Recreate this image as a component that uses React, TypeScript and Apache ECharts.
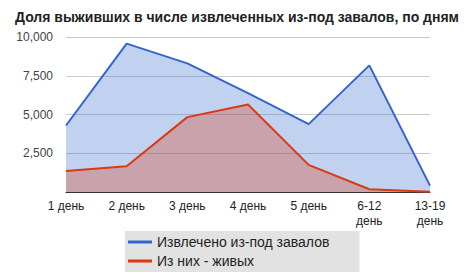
import React, { useEffect, useRef } from "react";
import * as echarts from "echarts";

const categories = ["1 день", "2 день", "3 день", "4 день", "5 день", "6-12\nдень", "13-19\nдень"];
const extracted = [4290, 9570, 8300, 6380, 4380, 8170, 410];
const alive = [1360, 1660, 4830, 5650, 1750, 180, 20];
const yTicks = { min: 0, max: 10000, interval: 2500 };
const seriesNames = ["Извлечено из-под завалов", "Из них - живых"];

export default function App() {
  const ref = useRef<HTMLDivElement>(null);
  useEffect(() => {
    const chart = echarts.init(ref.current!, null, { renderer: "svg" });
    chart.setOption({
      animation: false,
      textStyle: { fontFamily: "Liberation Sans, Arial, sans-serif" },
      title: {
        text: "Доля выживших в числе извлеченных из-под завалов, по дням",
        left: 10,
        top: 5,
        textStyle: { fontSize: 14, fontWeight: "bold", color: "#222", fontFamily: "Liberation Sans, Arial, sans-serif" },
      },
      grid: { left: 66, right: 39, top: 37, bottom: 84 },
      legend: {
        orient: "vertical",
        left: 125,
        top: 231,
        backgroundColor: "#e2e2e2",
        padding: [4, 30, 4, 3],
        itemGap: 5,
        itemWidth: 24,
        itemHeight: 3,
        icon: "rect",
        textStyle: { fontSize: 14, color: "#222", padding: [0, 0, 0, 0] },
        data: seriesNames,
      },
      xAxis: {
        type: "category",
        data: categories,
        boundaryGap: false,
        axisLine: { lineStyle: { color: "#333", width: 1 } },
        axisTick: { show: false },
        axisLabel: { color: "#222", fontSize: 12, margin: 6, lineHeight: 15, interval: 0 },
      },
      yAxis: {
        type: "value",
        min: yTicks.min,
        max: yTicks.max,
        interval: yTicks.interval,
        axisLine: { show: false },
        axisTick: { show: false },
        splitLine: { lineStyle: { color: "#cccccc" } },
        axisLabel: {
          color: "#444",
          fontSize: 12,
          margin: 13,
          formatter: (v: number) => (v === 0 ? "" : v.toLocaleString("en-US")),
        },
      },
      series: [
        {
          name: seriesNames[0],
          type: "line",
          data: extracted,
          symbol: "none",
          lineStyle: { color: "#3366cc", width: 2 },
          itemStyle: { color: "#3366cc" },
          areaStyle: { color: "#3366cc", opacity: 0.3 },
        },
        {
          name: seriesNames[1],
          type: "line",
          data: alive,
          symbol: "none",
          lineStyle: { color: "#dc3912", width: 2 },
          itemStyle: { color: "#dc3912" },
          areaStyle: { color: "#dc3912", opacity: 0.3 },
        },
      ],
    });
    return () => chart.dispose();
  }, []);
  return <div ref={ref} style={{ width: 469, height: 276, position: "absolute", left: 0, top: 0 }} />;
}
